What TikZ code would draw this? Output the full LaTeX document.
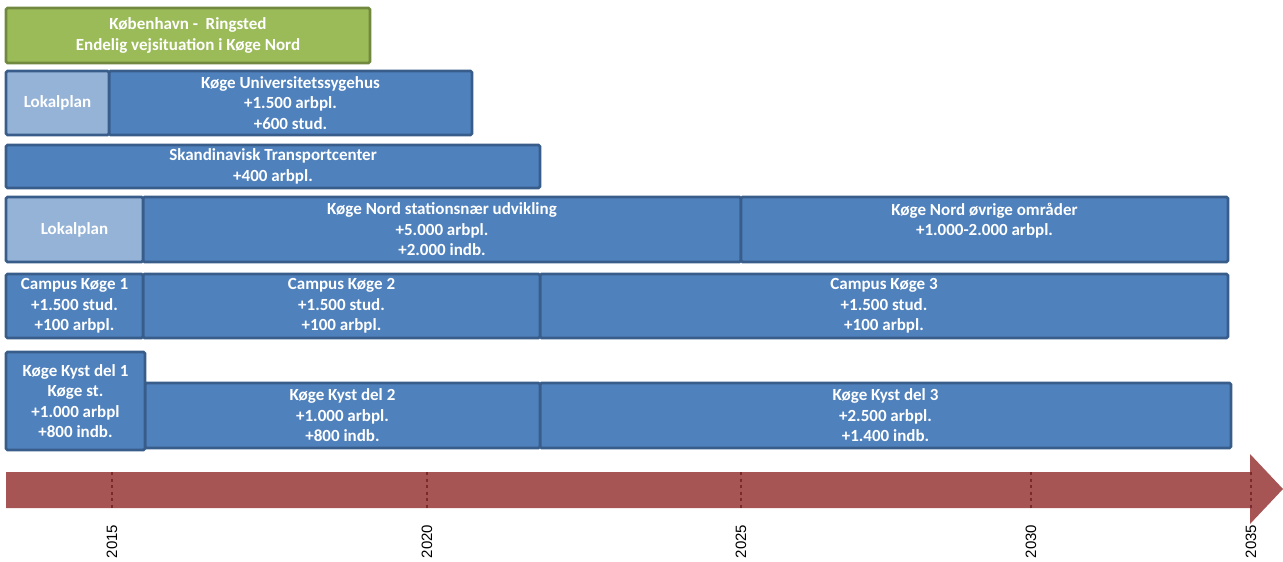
\documentclass[tikz,border=0pt]{standalone}
\usepackage{fontspec}
\setmainfont{Carlito}
\newfontfamily\yearfont{Liberation Sans}
\definecolor{segblue}{HTML}{4F81BD}
\definecolor{segedge}{HTML}{385D8A}
\definecolor{segpale}{HTML}{95B3D7}
\definecolor{grnfill}{HTML}{9BBB59}
\definecolor{grnedge}{HTML}{71893F}
\definecolor{arrfill}{HTML}{A65454}
\definecolor{arrtick}{HTML}{7A2A2A}
\tikzset{
  seg/.style={draw=segedge, fill=segblue, line width=2.6pt, rounded corners=1.5pt,
    inner sep=0pt, text=white, align=center,
    font=\fontsize{17}{20.5}\selectfont\bfseries},
  palebox/.style={seg, fill=segpale},
  grnbox/.style={seg, draw=grnedge, fill=grnfill},
  tickline/.style={draw=arrtick, line width=2.6pt, dash pattern=on 3pt off 3.5pt},
  yearlabel/.style={rotate=90, font=\yearfont\fontsize{15}{15}\selectfont, inner sep=0pt}
}
\begin{document}
\begin{tikzpicture}[x=1pt, y=-1pt]
\useasboundingbox (0,0) rectangle (1283,562);
% green
\node[grnbox, minimum width=364, minimum height=55] (krb) at (188,35.5)
  {København -\ \ Ringsted\\Endelig vejsituation i Køge Nord};
% row 1
\node[seg, minimum width=363, minimum height=64] (kuh) at (290.5,103)
  {Køge Universitetssygehus\\+1.500 arbpl.\\+600 stud.};
\node[palebox, minimum width=103, minimum height=64] (lp1) at (57.5,103) {Lokalplan};
% row 2
\node[seg, minimum width=534, minimum height=43] (stc) at (273,166.5)
  {Skandinavisk Transportcenter\\+400 arbpl.};
% row 3
\node[seg, minimum width=598, minimum height=65] (kns) at (442,229.5)
  {Køge Nord stationsnær udvikling\\+5.000 arbpl.\\+2.000 indb.};
\node[seg, minimum width=487, minimum height=65] (kno) at (984.5,229.5)
  {Køge Nord øvrige områder\\+1.000-2.000 arbpl.\\\mbox{}};
\node[palebox, minimum width=137, minimum height=65] (lp2) at (74.5,229.5) {Lokalplan};
% row 4
\node[seg, minimum width=688, minimum height=64] (ck3) at (884,306)
  {Campus Køge 3\\+1.500 stud.\\+100 arbpl.};
\node[seg, minimum width=397, minimum height=64] (ck2) at (341.5,306)
  {Campus Køge 2\\+1.500 stud.\\+100 arbpl.};
\node[seg, minimum width=137, minimum height=64] (ck1) at (74.5,306)
  {Campus Køge 1\\+1.500 stud.\\+100 arbpl.};
% row 5
\node[seg, minimum width=691, minimum height=65] (kk3) at (885.5,415.5)
  {Køge Kyst del 3\\+2.500 arbpl.\\+1.400 indb.};
\node[seg, minimum width=395, minimum height=65] (kk2) at (342.5,415.5)
  {Køge Kyst del 2\\+1.000 arbpl.\\+800 indb.};
\node[seg, minimum width=139, minimum height=98] (kk1) at (75.5,401)
  {Køge Kyst del 1\\Køge st.\\+1.000 arbpl\\+800 indb.};
% time arrow
\coordinate (a0) at (6,472);
\coordinate (a1) at (1250,472);
\coordinate (a2) at (1250,454);
\coordinate (tip) at (1283,489);
\coordinate (a3) at (1250,524);
\coordinate (a4) at (1250,508);
\coordinate (a5) at (6,508);
\fill[arrfill] (a0) -- (a1) -- (a2) -- (tip) -- (a3) -- (a4) -- (a5) -- cycle;
\foreach \xx/\yy in {112/2015, 427/2020, 741/2025, 1031/2030, 1251/2035} {
  \coordinate (t\yy) at (\xx,472);
  \coordinate (b\yy) at (\xx,508);
  \draw[tickline] (t\yy) -- (b\yy);
  \node[yearlabel] (y\yy) at (\xx,541.5) {\yy};
}
\end{tikzpicture}
\end{document}
